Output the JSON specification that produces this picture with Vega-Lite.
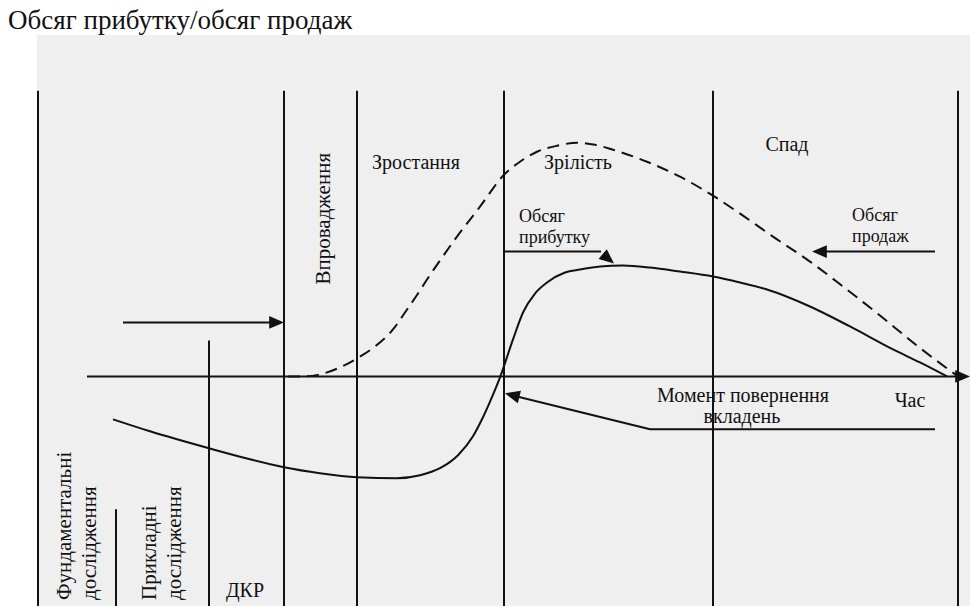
{
  "$schema": "https://vega.github.io/schema/vega-lite/v6.json",
  "width": 970,
  "height": 607,
  "autosize": {"type": "fit", "contains": "padding"},
  "padding": 0,
  "background": "white",
  "config": {"view": {"stroke": null}},
  "datasets": {
    "panel": [{"x": 37, "x2": 970, "y": 35, "y2": 607}],
    "segments": [
      {"x": 38, "y": 91, "x2": 38, "y2": 607},
      {"x": 284, "y": 91, "x2": 284, "y2": 607},
      {"x": 357, "y": 91, "x2": 357, "y2": 607},
      {"x": 504, "y": 91, "x2": 504, "y2": 607},
      {"x": 713, "y": 91, "x2": 713, "y2": 607},
      {"x": 958, "y": 91, "x2": 958, "y2": 607},
      {"x": 209, "y": 341, "x2": 209, "y2": 607},
      {"x": 116, "y": 510, "x2": 116, "y2": 607},
      {"x": 87, "y": 377, "x2": 962, "y2": 377},
      {"x": 123, "y": 323, "x2": 276, "y2": 323},
      {"x": 504, "y": 252, "x2": 601, "y2": 252},
      {"x": 822, "y": 252, "x2": 935, "y2": 252},
      {"x": 650, "y": 430, "x2": 935, "y2": 430},
      {"x": 650, "y": 430, "x2": 516, "y2": 397}
    ],
    "arrows": [
      {"x": 284, "y": 323, "dir": 0},
      {"x": 970, "y": 377, "dir": 0},
      {"x": 614, "y": 264, "dir": 40},
      {"x": 812, "y": 252, "dir": 180},
      {"x": 505, "y": 394, "dir": 194}
    ],
    "sales": [
      {"x": 288, "y": 377}, {"x": 305, "y": 377}, {"x": 320, "y": 375}, {"x": 340, "y": 368},
      {"x": 357, "y": 359}, {"x": 375, "y": 347}, {"x": 393, "y": 330}, {"x": 405, "y": 313},
      {"x": 418, "y": 294}, {"x": 427, "y": 280}, {"x": 442, "y": 258}, {"x": 457, "y": 237},
      {"x": 480, "y": 207}, {"x": 504, "y": 175}, {"x": 520, "y": 162}, {"x": 537, "y": 152},
      {"x": 557, "y": 146}, {"x": 577, "y": 143}, {"x": 595, "y": 145}, {"x": 613, "y": 150},
      {"x": 647, "y": 162}, {"x": 680, "y": 177}, {"x": 713, "y": 196}, {"x": 743, "y": 216},
      {"x": 773, "y": 237}, {"x": 810, "y": 262}, {"x": 843, "y": 287}, {"x": 880, "y": 316},
      {"x": 913, "y": 343}, {"x": 947, "y": 369}, {"x": 958, "y": 377}
    ],
    "profit": [
      {"x": 113, "y": 420}, {"x": 150, "y": 432}, {"x": 209, "y": 449}, {"x": 250, "y": 460},
      {"x": 284, "y": 468}, {"x": 320, "y": 474}, {"x": 357, "y": 478}, {"x": 397, "y": 479},
      {"x": 420, "y": 476}, {"x": 440, "y": 469}, {"x": 458, "y": 456}, {"x": 473, "y": 437},
      {"x": 482, "y": 420}, {"x": 491, "y": 400}, {"x": 500, "y": 378}, {"x": 513, "y": 340},
      {"x": 523, "y": 313}, {"x": 535, "y": 294}, {"x": 547, "y": 283}, {"x": 565, "y": 273},
      {"x": 580, "y": 270}, {"x": 600, "y": 267}, {"x": 623, "y": 266}, {"x": 650, "y": 268},
      {"x": 680, "y": 272}, {"x": 713, "y": 277}, {"x": 740, "y": 283}, {"x": 767, "y": 290},
      {"x": 810, "y": 307}, {"x": 850, "y": 327}, {"x": 893, "y": 350}, {"x": 920, "y": 363},
      {"x": 947, "y": 377}
    ],
    "phases": [
      {"x": 416, "y": 163, "label": "Зростання"},
      {"x": 578, "y": 163, "label": "Зрілість"},
      {"x": 787, "y": 145, "label": "Спад"}
    ],
    "series_labels": [
      {"x": 519, "y": 217, "label": "Обсяг"},
      {"x": 519, "y": 238, "label": "прибутку"},
      {"x": 852, "y": 216, "label": "Обсяг"},
      {"x": 852, "y": 237, "label": "продаж"}
    ],
    "notes": [
      {"x": 743, "y": 397, "label": "Момент повернення"},
      {"x": 742, "y": 418, "label": "вкладень"},
      {"x": 910, "y": 402, "label": "Час"},
      {"x": 245, "y": 592, "label": "ДКР"}
    ],
    "vertical_labels": [
      {"x": 324, "y": 285, "label": "Впровадження"},
      {"x": 65, "y": 601, "label": "Фундаментальні"},
      {"x": 90, "y": 601, "label": "дослідження"},
      {"x": 150, "y": 601, "label": "Прикладні"},
      {"x": 175, "y": 601, "label": "дослідження"}
    ],
    "title": [{"x": 8, "y": 21, "label": "Обсяг прибутку/обсяг продаж"}]
  },
  "encoding": {
    "x": {"field": "x", "type": "quantitative", "scale": {"domain": [0, 970], "nice": false, "zero": false}, "axis": null},
    "y": {"field": "y", "type": "quantitative", "scale": {"domain": [0, 607], "reverse": true, "nice": false, "zero": false}, "axis": null}
  },
  "layer": [
    {
      "data": {"name": "panel"},
      "mark": {"type": "rect", "fill": "#efefef"},
      "encoding": {"x2": {"field": "x2"}, "y2": {"field": "y2"}}
    },
    {
      "data": {"name": "segments"},
      "mark": {"type": "rule", "stroke": "#111", "strokeWidth": 2},
      "encoding": {"x2": {"field": "x2"}, "y2": {"field": "y2"}}
    },
    {
      "data": {"name": "sales"},
      "mark": {"type": "line", "stroke": "#111", "strokeWidth": 2, "strokeDash": [12, 7], "interpolate": "monotone"},
      "encoding": {}
    },
    {
      "data": {"name": "profit"},
      "mark": {"type": "line", "stroke": "#111", "strokeWidth": 2, "interpolate": "monotone"},
      "encoding": {}
    },
    {
      "data": {"name": "arrows"},
      "mark": {"type": "point", "shape": "M0,0 L-3.7,-1.6 L-3.7,1.6 Z", "size": 64, "filled": true, "fill": "#111", "stroke": null, "opacity": 1},
      "encoding": {"angle": {"field": "dir", "type": "quantitative", "scale": {"domain": [0, 360], "range": [0, 360]}}}
    },
    {
      "data": {"name": "phases"},
      "mark": {"type": "text", "font": "Liberation Serif", "fontSize": 20, "align": "center", "baseline": "middle", "color": "#111"},
      "encoding": {"text": {"field": "label"}}
    },
    {
      "data": {"name": "series_labels"},
      "mark": {"type": "text", "font": "Liberation Serif", "fontSize": 18, "align": "left", "baseline": "middle", "color": "#111"},
      "encoding": {"text": {"field": "label"}}
    },
    {
      "data": {"name": "notes"},
      "mark": {"type": "text", "font": "Liberation Serif", "fontSize": 20, "align": "center", "baseline": "middle", "color": "#111"},
      "encoding": {"text": {"field": "label"}}
    },
    {
      "data": {"name": "vertical_labels"},
      "mark": {"type": "text", "font": "Liberation Serif", "fontSize": 21, "align": "left", "baseline": "middle", "angle": 270, "color": "#111"},
      "encoding": {"text": {"field": "label"}}
    },
    {
      "data": {"name": "title"},
      "mark": {"type": "text", "font": "Liberation Serif", "fontSize": 27, "align": "left", "baseline": "middle", "color": "#111"},
      "encoding": {"text": {"field": "label"}}
    }
  ]
}
